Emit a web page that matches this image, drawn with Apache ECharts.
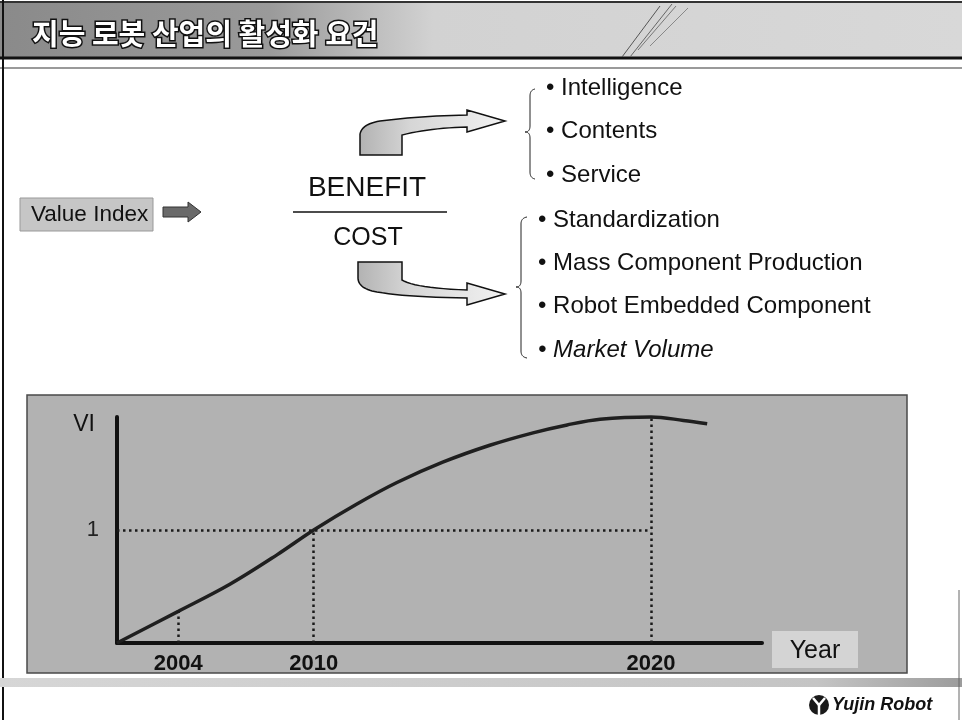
<!DOCTYPE html>
<html>
<head>
<meta charset="utf-8">
<script src="https://cdn.jsdelivr.net/npm/echarts@6/dist/echarts.min.js"></script>
<style>
  html, body { margin: 0; padding: 0; background: #ffffff; }
  #chart { width: 962px; height: 720px; }
</style>
</head>
<body>
<div id="chart"></div>
<script>
// Slide texts
const titleText = '지능 로봇 산업의 활성화 요건';
const indexLabel = 'Value Index';
const benefitLabel = 'BENEFIT';
const costLabel = 'COST';
const benefitItems = ['Intelligence', 'Contents', 'Service'];
const costItems = ['Standardization', 'Mass Component Production', 'Robot Embedded Component', 'Market Volume'];

// Value-index curve: position along the time axis (0-100) and VI value
const xPos = [0, 9.5, 17.5, 24.8, 30.5, 37.2, 43.4, 50.5, 57.8, 64.5, 69.8, 74.9, 82.8, 87.8, 91.5];
const viValues = [0, 0.28, 0.52, 0.78, 1.0, 1.23, 1.42, 1.6, 1.75, 1.86, 1.93, 1.98, 2.0, 1.97, 1.94];

// Years marked on the time axis and where they sit on it
const yearLabels = ['2004', '2010', '2020'];
const yearPos = [9.5, 30.5, 82.8];
// Value-axis tick
const viTicks = [1];

const LATIN = '"Liberation Sans", Arial, sans-serif';
const KOREAN = '"Noto Sans CJK KR", sans-serif';

const chart = echarts.init(document.getElementById('chart'), null, { renderer: 'canvas' });

// VI value on the curve at a marked year
function viAt(pos) {
  return viValues[xPos.indexOf(pos)];
}

// Turn a list of move/line/quadratic segments into a point list
function outline(segs) {
  const pts = [];
  let cur = null;
  segs.forEach(s => {
    if (s[0] === 'Q') {
      const [, cx, cy, x, y] = s;
      for (let k = 1; k <= 12; k++) {
        const t = k / 12, u = 1 - t;
        pts.push([u * u * cur[0] + 2 * u * t * cx + t * t * x, u * u * cur[1] + 2 * u * t * cy + t * t * y]);
      }
      cur = [x, y];
    } else {
      cur = [s[1], s[2]];
      pts.push(cur);
    }
  });
  return pts;
}

// Dotted guides: VI = 1 level and the marked years
const guideLines = [
  [{ coord: [0, viTicks[0]] }, { coord: [yearPos[yearPos.length - 1], viTicks[0]] }]
].concat(yearPos.map(p => [{ coord: [p, 0] }, { coord: [p, viAt(p)] }]));

const textStyle = (text, x, y, size, extra) => Object.assign({
  text: text, x: x, y: y, fontSize: size, fontFamily: LATIN,
  fill: '#111', verticalAlign: 'middle', align: 'left'
}, extra || {});

const arrowFill = {
  type: 'linear', x: 0, y: 0, x2: 1, y2: 0,
  colorStops: [{ offset: 0, color: '#b2b2b2' }, { offset: 0.35, color: '#d6d6d6' }, { offset: 1, color: '#f2f2f2' }]
};

const graphics = [
  // title band
  { type: 'rect', z: -20, shape: { x: 0, y: 3, width: 962, height: 54 },
    style: { fill: { type: 'linear', x: 0, y: 0, x2: 1, y2: 0,
      colorStops: [{ offset: 0, color: '#8a8a8a' }, { offset: 0.28, color: '#9a9a9a' },
                   { offset: 0.45, color: '#d2d2d2' }, { offset: 1, color: '#d8d8d8' }] } } },
  { type: 'line', z: -19, shape: { x1: 0, y1: 2, x2: 962, y2: 2 }, style: { stroke: '#333', lineWidth: 2 } },
  { type: 'line', z: -19, shape: { x1: 0, y1: 58, x2: 962, y2: 58 }, style: { stroke: '#111', lineWidth: 3 } },
  { type: 'line', z: -19, shape: { x1: 0, y1: 68, x2: 962, y2: 68 }, style: { stroke: '#9a9a9a', lineWidth: 2 } },
  { type: 'line', z: -19, shape: { x1: 622, y1: 57, x2: 660, y2: 6 }, style: { stroke: '#555', lineWidth: 1 } },
  { type: 'line', z: -19, shape: { x1: 630, y1: 57, x2: 672, y2: 4 }, style: { stroke: '#666', lineWidth: 1 } },
  { type: 'line', z: -19, shape: { x1: 638, y1: 50, x2: 676, y2: 6 }, style: { stroke: '#777', lineWidth: 1 } },
  { type: 'line', z: -19, shape: { x1: 650, y1: 46, x2: 688, y2: 8 }, style: { stroke: '#888', lineWidth: 1 } },
  { type: 'text', z: 5, style: textStyle(titleText, 32, 34, 29, {
      fontFamily: KOREAN, fontWeight: 'bold', fill: '#ffffff', stroke: '#111', lineWidth: 3, strokeFirst: true }) },
  // left page edge
  { type: 'line', z: -19, shape: { x1: 3, y1: 0, x2: 3, y2: 720 }, style: { stroke: '#111', lineWidth: 2 } },

  // Value Index box and arrow
  { type: 'rect', z: -5, shape: { x: 20, y: 198, width: 133, height: 33 },
    style: { fill: '#c6c6c6', stroke: '#999', lineWidth: 1 } },
  { type: 'text', z: 5, style: textStyle(indexLabel, 31, 215, 22.5) },
  { type: 'polygon', z: 5, shape: { points: [[163, 207], [188, 207], [188, 202], [201, 212], [188, 222], [188, 217], [163, 217]] },
    style: { fill: '#6a6a6a', stroke: '#333', lineWidth: 1 } },

  // fraction
  { type: 'text', z: 5, style: textStyle(benefitLabel, 367, 188, 28, { align: 'center' }) },
  { type: 'line', z: 5, shape: { x1: 293, y1: 212, x2: 447, y2: 212 }, style: { stroke: '#111', lineWidth: 1.5 } },
  { type: 'text', z: 5, style: textStyle(costLabel, 368, 238, 25, { align: 'center' }) },

  // curved arrows
  { type: 'polygon', z: 5,
    shape: { points: outline([['M', 360, 155], ['L', 360, 134], ['Q', 362, 124, 380, 121], ['Q', 420, 116, 467, 115],
      ['L', 467, 110], ['L', 505, 121], ['L', 467, 132], ['L', 467, 127], ['Q', 430, 128, 402, 135], ['L', 402, 155]]) },
    style: { fill: arrowFill, stroke: '#111', lineWidth: 1.5 } },
  { type: 'polygon', z: 5,
    shape: { points: outline([['M', 358, 262], ['L', 402, 262], ['L', 402, 280], ['Q', 415, 288, 467, 290],
      ['L', 467, 283], ['L', 505, 294], ['L', 467, 305], ['L', 467, 298], ['Q', 400, 297, 372, 291], ['Q', 358, 287, 358, 278]]) },
    style: { fill: arrowFill, stroke: '#111', lineWidth: 1.5 } },

  // braces
  { type: 'polyline', z: 5,
    shape: { points: outline([['M', 535, 89], ['Q', 530, 90, 530, 96], ['L', 530, 126], ['Q', 530, 132, 525, 132],
      ['Q', 530, 132, 530, 138], ['L', 530, 172], ['Q', 530, 178, 535, 179]]) },
    style: { fill: null, stroke: '#222', lineWidth: 1 } },
  { type: 'polyline', z: 5,
    shape: { points: outline([['M', 527, 217], ['Q', 521, 218, 521, 224], ['L', 521, 281], ['Q', 521, 287, 516, 287],
      ['Q', 521, 287, 521, 293], ['L', 521, 351], ['Q', 521, 357, 527, 358]]) },
    style: { fill: null, stroke: '#222', lineWidth: 1 } },

  // chart panel
  { type: 'rect', z: -10, shape: { x: 27, y: 395, width: 880, height: 278 },
    style: { fill: '#b2b2b2', stroke: '#4a4a4a', lineWidth: 1.5 } },
  { type: 'text', z: 5, style: textStyle('VI', 84, 425, 23, { align: 'center' }) },
  { type: 'rect', z: 4, shape: { x: 772, y: 631, width: 86, height: 37 }, style: { fill: '#d4d4d4' } },
  { type: 'text', z: 5, style: textStyle('Year', 815, 651, 25, { align: 'center' }) },

  // footer band and logo
  { type: 'rect', z: -10, shape: { x: 0, y: 678, width: 962, height: 9 },
    style: { fill: { type: 'linear', x: 0, y: 0, x2: 1, y2: 0,
      colorStops: [{ offset: 0, color: '#d6d6d6' }, { offset: 0.85, color: '#c4c4c4' }, { offset: 1, color: '#9c9c9c' }] } } },
  { type: 'line', z: -9, shape: { x1: 959, y1: 590, x2: 959, y2: 720 }, style: { stroke: '#666', lineWidth: 1 } },
  { type: 'circle', z: 5, shape: { cx: 819, cy: 705, r: 10 }, style: { fill: '#1a1a1a' } },
  { type: 'polyline', z: 6, shape: { points: [[813, 698], [819, 705], [825, 698]] },
    style: { fill: null, stroke: '#ffffff', lineWidth: 2.5 } },
  { type: 'line', z: 6, shape: { x1: 819, y1: 705, x2: 819, y2: 715 }, style: { stroke: '#ffffff', lineWidth: 2.5 } },
  { type: 'text', z: 5, style: textStyle('Yujin Robot', 832, 705, 18, { fontWeight: 'bold', fontStyle: 'italic' }) }
];

// bullet lists
benefitItems.forEach((t, i) => {
  graphics.push({ type: 'text', z: 5, style: textStyle('\u2022 ' + t, 546, 88 + i * 43.5, 24) });
});
costItems.forEach((t, i) => {
  graphics.push({ type: 'text', z: 5, style: textStyle('\u2022 ' + t, 538, 220 + i * 43.4, 24,
    i === costItems.length - 1 ? { fontStyle: 'italic' } : {}) });
});

const option = {
  backgroundColor: '#ffffff',
  animation: false,
  grid: { left: 117, right: 200, top: 417, bottom: 77, containLabel: false },
  xAxis: {
    type: 'value', min: 0, max: 100,
    axisLine: { show: true, lineStyle: { color: '#111', width: 4 } },
    axisTick: { show: false },
    splitLine: { show: false },
    axisLabel: {
      customValues: yearPos,
      formatter: v => yearLabels[yearPos.indexOf(v)] || '',
      fontFamily: LATIN, fontWeight: 'bold', fontSize: 22, color: '#111', margin: 10
    }
  },
  yAxis: {
    type: 'value', min: 0, max: 2,
    axisLine: { show: true, lineStyle: { color: '#111', width: 4 } },
    axisTick: { show: false },
    splitLine: { show: false },
    axisLabel: {
      customValues: viTicks,
      fontFamily: LATIN, fontSize: 22, color: '#222', margin: 18
    }
  },
  graphic: { elements: graphics },
  series: [{
    type: 'line',
    data: xPos.map((x, i) => [x, viValues[i]]),
    smooth: 0.35,
    showSymbol: false,
    clip: false,
    lineStyle: { color: '#1f1f1f', width: 3.5 },
    z: 3,
    markLine: {
      silent: true,
      symbol: ['none', 'none'],
      label: { show: false },
      lineStyle: { color: '#1a1a1a', width: 2.5, type: [2.5, 3.5] },
      data: guideLines
    }
  }]
};

chart.setOption(option);
</script>
</body>
</html>
